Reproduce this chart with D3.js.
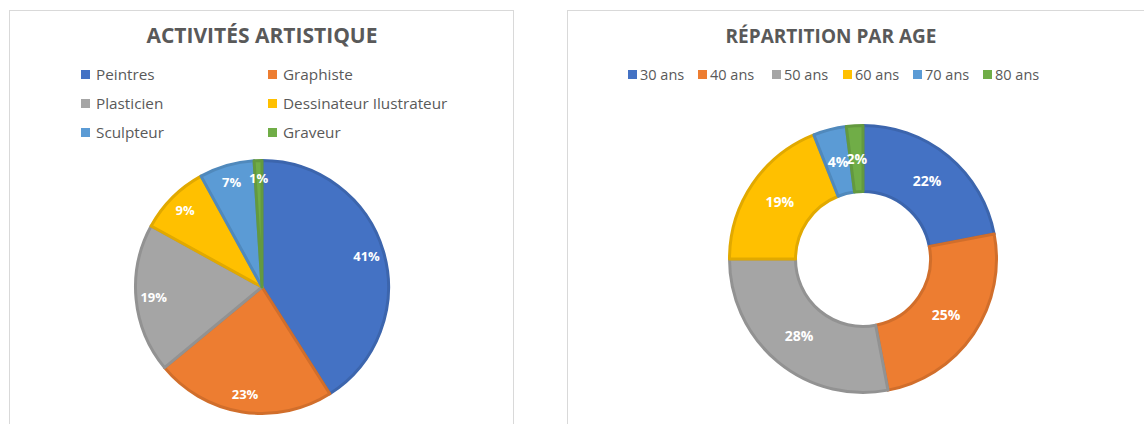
<!DOCTYPE html>
<html lang="fr">
<head>
    <meta charset="UTF-8">
    <title>Activités artistique / Répartition par age</title>
    <script src="https://d3js.org/d3.v7.min.js"></script>
    <style>
        body { margin: 0; background: #fff; }
        text { font-family: "Open Sans", "Noto Sans", sans-serif; }
        .title { font-weight: bold; fill: #595959; text-anchor: middle; }
        .legend text { fill: #595959; }
        .pct { font-weight: bold; fill: #fff; text-anchor: middle; }
    </style>
</head>
<body>
<svg id="chart" width="1144" height="424"></svg>
<script>
    // Chart 1 - activités
    var activites = ["Peintres", "Graphiste", "Plasticien", "Dessinateur Ilustrateur", "Sculpteur", "Graveur"];
    var activitesPct = [41, 23, 19, 9, 7, 1];

    // Chart 2 - ages
    var ages = ["30 ans", "40 ans", "50 ans", "60 ans", "70 ans", "80 ans"];
    var agesPct = [22, 25, 28, 19, 4, 2];

    var couleurs = ["#4472C4", "#ED7D31", "#A5A5A5", "#FFC000", "#5B9BD5", "#70AD47"];

    var svg = d3.select("#chart");

    // panel frames
    svg.append("rect").attr("x", 9.5).attr("y", 10.5).attr("width", 504).attr("height", 430)
        .attr("fill", "none").attr("stroke", "#d9d9d9");
    svg.append("rect").attr("x", 567.5).attr("y", 10.5).attr("width", 600).attr("height", 430)
        .attr("fill", "none").attr("stroke", "#d9d9d9");

    var pie = d3.pie().sort(null).value(d => d.v);

    // ---------- Pie ----------
    var data1 = activites.map((n, i) => ({ n: n, v: activitesPct[i] }));
    var color = d3.scaleOrdinal().domain(activites).range(couleurs);

    svg.append("text").attr("class", "title").attr("x", 262).attr("y", 43)
        .style("font-size", "21px").text("ACTIVITÉS ARTISTIQUE");

    var leg1 = svg.append("g").attr("class", "legend").style("font-size", "15.3px");
    leg1.selectAll("g").data(activites).enter().append("g")
        .attr("transform", (d, i) => "translate(" + (i % 2 ? 268 : 81) + "," + (70 + Math.floor(i / 2) * 29) + ")")
        .each(function(d) {
            var g = d3.select(this);
            g.append("rect").attr("width", 9).attr("height", 9).attr("fill", color(d));
            g.append("text").attr("x", 15).attr("y", 9.5).text(d);
        });

    var r1 = 128;
    var g1 = svg.append("g").attr("transform", "translate(262,287)");
    var arc1 = d3.arc().innerRadius(0).outerRadius(r1 - 1.5);
    var lab1 = d3.arc().innerRadius(r1 * 0.85).outerRadius(r1 * 0.85);
    var arcs1 = pie(data1);
    g1.selectAll("path").data(arcs1).enter().append("path")
        .attr("d", arc1)
        .attr("fill", d => color(d.data.n))
        .attr("stroke", d => d3.color(color(d.data.n)).darker(0.35))
        .attr("stroke-width", 3)
        .attr("stroke-linejoin", "round");
    g1.selectAll("text").data(arcs1).enter().append("text")
        .attr("class", "pct")
        .style("font-size", "13px")
        .attr("transform", d => "translate(" + lab1.centroid(d) + ")")
        .attr("dy", "0.35em")
        .text(d => d.data.v + "%");

    // ---------- Donut ----------
    var data2 = ages.map((n, i) => ({ n: n, v: agesPct[i] }));
    var color2 = d3.scaleOrdinal().domain(ages).range(couleurs);

    svg.append("text").attr("class", "title").attr("x", 831).attr("y", 43)
        .style("font-size", "19px").text("RÉPARTITION PAR AGE");

    var xs = [628, 698, 772, 843, 913, 983];
    var leg2 = svg.append("g").attr("class", "legend").style("font-size", "14.5px");
    leg2.selectAll("g").data(ages).enter().append("g")
        .attr("transform", (d, i) => "translate(" + xs[i] + ",70)")
        .each(function(d) {
            var g = d3.select(this);
            g.append("rect").attr("width", 9).attr("height", 9).attr("fill", color2(d));
            g.append("text").attr("x", 12).attr("y", 9.5).text(d);
        });

    var r2 = 135, r2in = 66;
    var g2 = svg.append("g").attr("transform", "translate(863,259)");
    var arc2 = d3.arc().innerRadius(r2in + 1.5).outerRadius(r2 - 1.5);
    var arcs2 = pie(data2);
    g2.selectAll("path").data(arcs2).enter().append("path")
        .attr("d", arc2)
        .attr("fill", d => color2(d.data.n))
        .attr("stroke", d => d3.color(color2(d.data.n)).darker(0.35))
        .attr("stroke-width", 3)
        .attr("stroke-linejoin", "round");
    g2.selectAll("text").data(arcs2).enter().append("text")
        .attr("class", "pct")
        .style("font-size", "14px")
        .attr("transform", d => "translate(" + arc2.centroid(d) + ")")
        .attr("dy", "0.35em")
        .text(d => d.data.v + "%");
</script>
</body>
</html>
